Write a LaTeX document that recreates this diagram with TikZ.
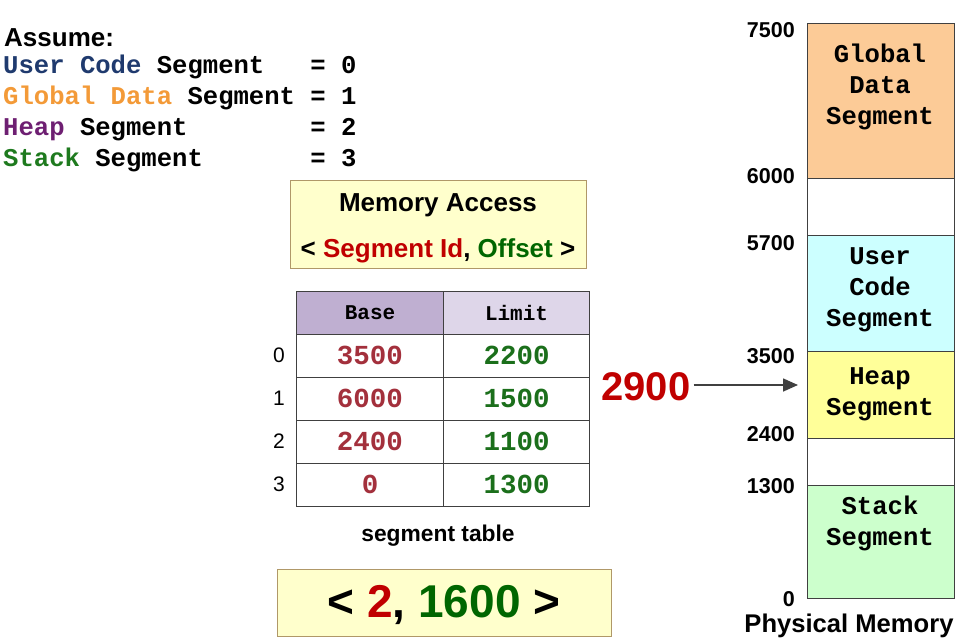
\documentclass[tikz,border=0pt]{standalone}
\usepackage{fontspec}
\setmainfont{Liberation Sans}
\setmonofont{Liberation Mono}
\usetikzlibrary{arrows.meta}
\definecolor{codeblue}{HTML}{1F3A6E}
\definecolor{dataorange}{HTML}{F39A38}
\definecolor{heappurple}{HTML}{6E1F72}
\definecolor{stackgreen}{HTML}{1E7A1E}
\definecolor{idred}{HTML}{C00000}
\definecolor{offgreen}{HTML}{006600}
\definecolor{basered}{HTML}{A3303C}
\definecolor{limitgreen}{HTML}{1B6F1B}
\definecolor{notefill}{HTML}{FFFFCC}
\definecolor{noteline}{HTML}{B09868}
\definecolor{basehead}{HTML}{BFAFD1}
\definecolor{limithead}{HTML}{DED6E9}
\definecolor{globalfill}{HTML}{FCCB97}
\definecolor{codefill}{HTML}{CCFFFF}
\definecolor{heapfill}{HTML}{FFFF99}
\definecolor{stackfill}{HTML}{CCFFCC}
\definecolor{edge}{HTML}{404040}

\begin{document}
\begin{tikzpicture}[x=1pt,y=-1pt,
    mono/.style={font=\fontsize{25.6}{31}\selectfont\ttfamily\bfseries},
    cell/.style={draw=edge,line width=1pt,minimum width=146.5pt,minimum height=43pt,inner sep=0pt,
      font=\fontsize{27.5}{30}\selectfont\ttfamily\bfseries},
    head/.style={cell,font=\fontsize{21}{24}\selectfont\ttfamily\bfseries},
    addr/.style={anchor=east,inner sep=0pt,font=\fontsize{21.5}{24}\selectfont\bfseries},
    note/.style={draw=noteline,fill=notefill,line width=1pt,inner sep=0pt},
    block/.style={draw=edge,line width=1pt,minimum width=147pt,inner sep=0pt}]
    \useasboundingbox (0,0) rectangle (958,643);

    \node[anchor=base west,inner sep=0pt,font=\fontsize{26}{30}\selectfont\bfseries] (assume) at (4,46) {Assume:};
    \node[mono,anchor=base west,inner sep=0pt] (seg0) at (3,73) {\textcolor{codeblue}{User~Code}~Segment~~~=~0};
    \node[mono,anchor=base west,inner sep=0pt] (seg1) at (3,104) {\textcolor{dataorange}{Global~Data}~Segment~=~1};
    \node[mono,anchor=base west,inner sep=0pt] (seg2) at (3,135) {\textcolor{heappurple}{Heap}~Segment~~~~~~~~=~2};
    \node[mono,anchor=base west,inner sep=0pt] (seg3) at (3,166) {\textcolor{stackgreen}{Stack}~Segment~~~~~~~=~3};

    \node[note,minimum width=296pt,minimum height=88pt] (access) at (438,224) {};
    \node[font=\fontsize{26}{30}\selectfont\bfseries] (acctitle) at (438,205) {Memory Access};
    \node[font=\fontsize{26}{30}\selectfont\bfseries] (accform) at (438,251)
      {< \textcolor{idred}{Segment Id}, \textcolor{offgreen}{Offset} >};

    \node[head,fill=basehead] (base) at (370,312.5) {Base};
    \node[head,fill=limithead] (limit) at (516.5,312.5) {Limit};
    \foreach \b/\l [count=\i from 0] in {3500/2200,6000/1500,2400/1100,0/1300} {
      \node[cell,text=basered] (b\i) at (370,{355.5+43*\i}) {\b};
      \node[cell,text=limitgreen] (l\i) at (516.5,{355.5+43*\i}) {\l};
      \node[font=\fontsize{21}{24}\selectfont] (r\i) at (279,{355.5+43*\i}) {\i};
    }
    \node[font=\fontsize{22.8}{26}\selectfont\bfseries] (tabname) at (438,536) {segment table};

    \node[note,minimum width=334pt,minimum height=67pt] (pair) at (444,602.5) {};
    \node[font=\fontsize{46}{50}\selectfont\bfseries] (pairtext) at (444,605)
      {< \textcolor{idred}{2}, \textcolor{offgreen}{1600} >};

    \foreach \ya/\yb/\col/\nm in {23/178/globalfill/gds,178/235/white/gap1,235/351/codefill/ucs,
        351/438/heapfill/hs,438/485/white/gap2,485/598/stackfill/ss}
      \node[block,fill=\col,minimum height={(\yb-\ya)*1pt}] (\nm) at (880.5,{(\ya+\yb)/2}) {};

    \node[mono,align=center] (gdstext) at (880,87) {Global\\Data\\Segment};
    \node[mono,align=center] (ucstext) at (880,290) {User\\Code\\Segment};
    \node[mono,align=center] (hstext) at (880,394) {Heap\\Segment};
    \node[mono,align=center] (sstext) at (880,523.5) {Stack\\Segment};

    \foreach \v/\y in {7500/30,6000/176,5700/243,3500/356,2400/434,1300/486,0/599}
      \node[addr] (m\v) at (795,\y) {\v};
    \node[anchor=base,inner sep=0pt,font=\fontsize{25.6}{28}\selectfont\bfseries] (physmem) at (849,632) {Physical Memory};

    \node[inner sep=0pt,text=idred,font=\fontsize{40}{44}\selectfont\bfseries] (phys) at (646,387) {2900};
    \coordinate (hit) at (798,385);
    \draw[edge,line width=1.6pt,-{Triangle[length=15pt,width=13pt]}] (phys.east |- hit) ++(3,0) -- (hit);
\end{tikzpicture}
\end{document}
